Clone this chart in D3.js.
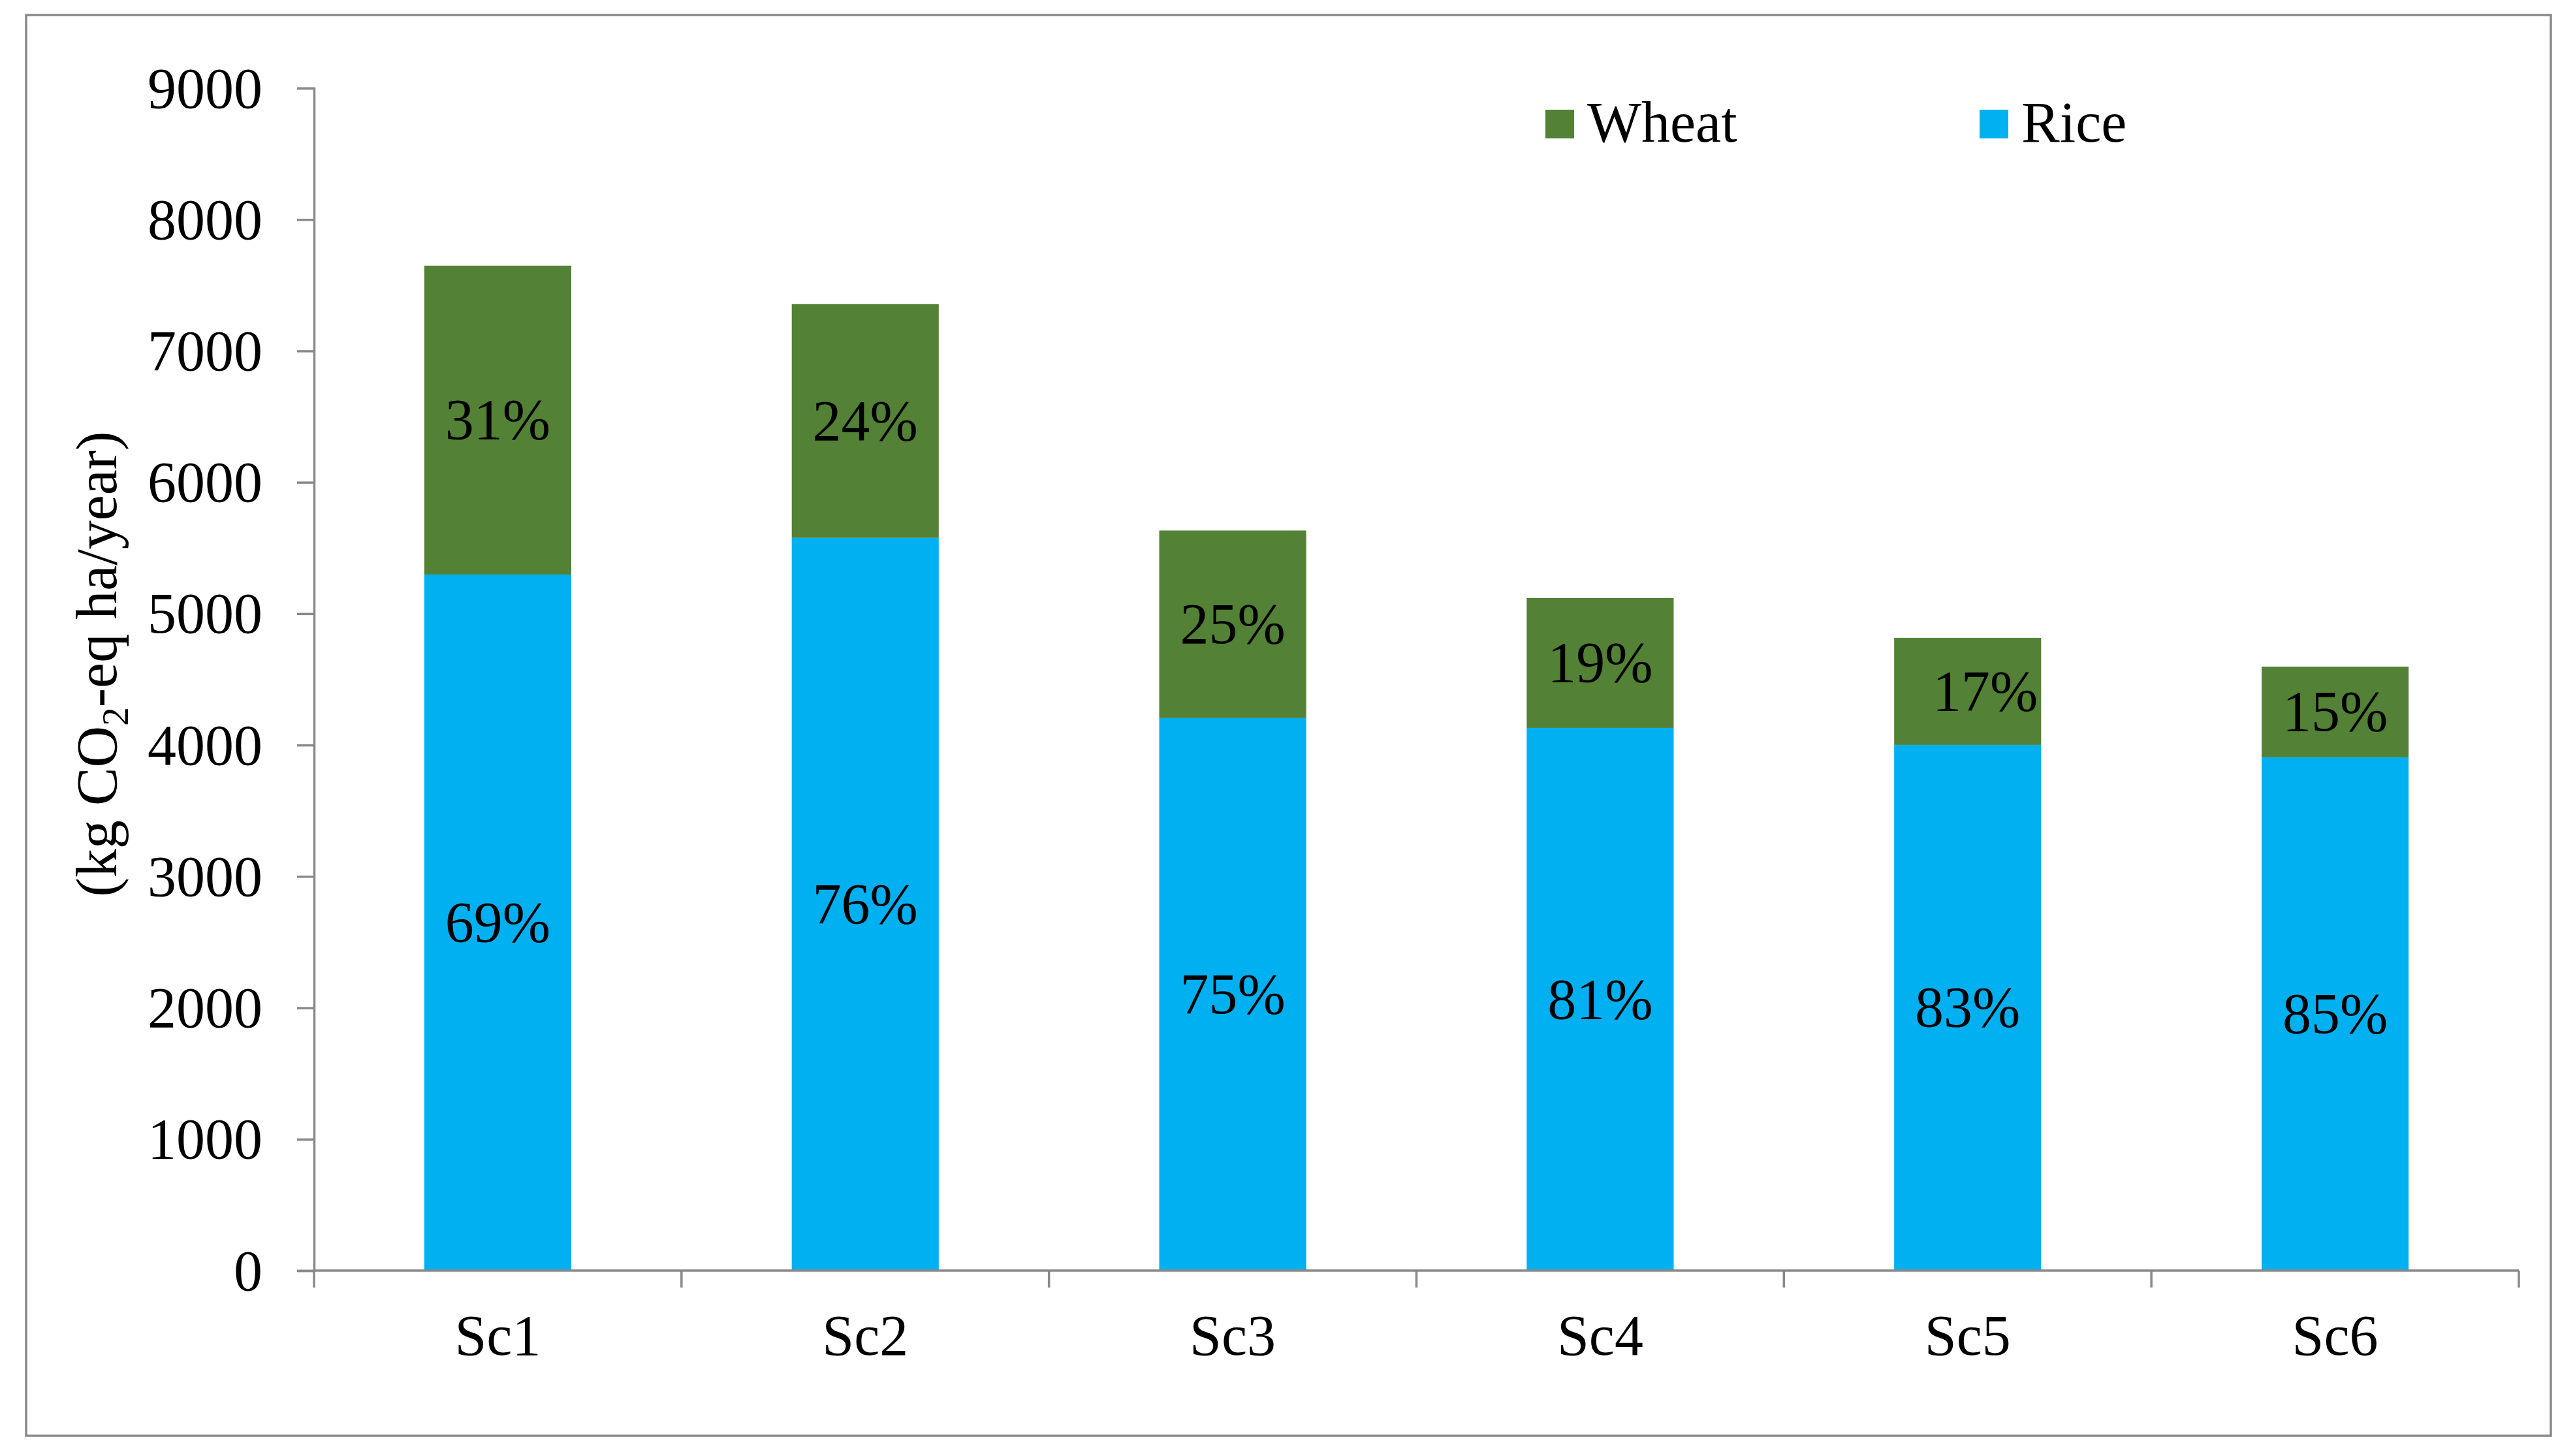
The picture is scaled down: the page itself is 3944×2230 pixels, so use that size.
<!DOCTYPE html>
<html>
<head>
<meta charset="utf-8">
<script src="https://cdn.jsdelivr.net/npm/d3@7"></script>
<style>
  body { margin: 0; background: #fff; }
  text { font-family: "Liberation Serif", "Times New Roman", serif; fill: #000; }
</style>
</head>
<body>
<svg id="chart"></svg>
<script>
// data
const categories = ["Sc1", "Sc2", "Sc3", "Sc4", "Sc5", "Sc6"];
const rice = [5298, 5577, 4205, 4130, 4001, 3907];
const wheat = [2351, 1779, 1428, 989, 815, 690];
const ricePct = ["69%", "76%", "75%", "81%", "83%", "85%"];
const wheatPct = ["31%", "24%", "25%", "19%", "17%", "15%"];
const yTicks = [0, 1000, 2000, 3000, 4000, 5000, 6000, 7000, 8000, 9000];

const colors = { rice: "#00B0F0", wheat: "#538135" };
const grey = "#898989";
const fontSize = 88;

let width = 3944, height = 2230;
const plotLeft = 481, plotRight = 3858, plotTop = 135, plotBottom = 1946;

const svg = d3.select("#chart")
    .attr("width", width)
    .attr("height", height);

svg.append("rect")
    .attr("width", width)
    .attr("height", height)
    .attr("fill", "#fff");

// outer frame
svg.append("rect")
    .attr("x", 40).attr("y", 23)
    .attr("width", 3907 - 40).attr("height", 2199 - 23)
    .attr("fill", "none")
    .attr("stroke", grey)
    .attr("stroke-width", 3.5);

const x = d3.scaleBand()
    .domain(categories)
    .range([plotLeft, plotRight])
    .paddingInner(0.6)
    .paddingOuter(0.3);

const y = d3.scaleLinear()
    .domain([0, 9000])
    .range([plotBottom, plotTop]);

const rows = categories.map((c, i) => ({ cat: c, rice: rice[i], wheat: wheat[i], i: i }));
const stack = d3.stack().keys(["rice", "wheat"]);
const series = stack(rows);

const g = svg.append("g");

g.selectAll("g.series")
    .data(series)
    .enter()
    .append("g")
    .attr("fill", d => colors[d.key])
    .selectAll("rect")
    .data(d => d)
    .enter()
    .append("rect")
    .attr("x", d => x(d.data.cat))
    .attr("width", x.bandwidth())
    .attr("y", d => y(d[1]))
    .attr("height", d => y(d[0]) - y(d[1]));

// y axis
const yAxis = svg.append("g")
    .attr("transform", `translate(${plotLeft},0)`)
    .call(d3.axisLeft(y).tickValues(yTicks).tickFormat(d3.format("d")).tickSize(26).tickPadding(53));
yAxis.select(".domain").attr("stroke", grey).attr("stroke-width", 3.5);
yAxis.selectAll(".tick line").attr("stroke", grey).attr("stroke-width", 3.5);
yAxis.selectAll(".tick text")
    .attr("font-size", fontSize)
    .attr("font-family", "Liberation Serif")
    .attr("dy", "0.33em")
    .attr("fill", "#000");

// x axis
const xAxis = svg.append("g")
    .attr("transform", `translate(0,${plotBottom})`)
    .call(d3.axisBottom(x).tickSize(0).tickPadding(67));
xAxis.select(".domain").remove();
xAxis.selectAll(".tick text")
    .attr("font-size", fontSize)
    .attr("font-family", "Liberation Serif")
    .attr("fill", "#000");

const gap = (x.step() - x.bandwidth()) / 2;
const bounds = categories.map(c => x(c) - gap).concat([plotRight]);

svg.append("line")
    .attr("x1", plotLeft).attr("x2", plotRight)
    .attr("y1", plotBottom).attr("y2", plotBottom)
    .attr("stroke", grey).attr("stroke-width", 3.5);

svg.selectAll("line.xtick")
    .data(bounds)
    .enter()
    .append("line")
    .attr("class", "xtick")
    .attr("x1", d => d).attr("x2", d => d)
    .attr("y1", plotBottom).attr("y2", plotBottom + 26)
    .attr("stroke", grey).attr("stroke-width", 3.5);

// percentage labels, centred in each segment
const labelNudge = [0, 0, 0, 0, 27, 0]; // Sc5 wheat label sits a little right in the original

g.selectAll("text.rice")
    .data(series[0])
    .enter()
    .append("text")
    .attr("class", "rice")
    .attr("x", d => x(d.data.cat) + x.bandwidth() / 2)
    .attr("y", d => (y(d[0]) + y(d[1])) / 2)
    .attr("dy", "0.33em")
    .attr("text-anchor", "middle")
    .attr("font-size", fontSize)
    .text(d => ricePct[d.data.i]);

g.selectAll("text.wheat")
    .data(series[1])
    .enter()
    .append("text")
    .attr("class", "wheat")
    .attr("x", d => x(d.data.cat) + x.bandwidth() / 2 + labelNudge[d.data.i])
    .attr("y", d => (y(d[0]) + y(d[1])) / 2)
    .attr("dy", "0.33em")
    .attr("text-anchor", "middle")
    .attr("font-size", fontSize)
    .text(d => wheatPct[d.data.i]);

// y title
const title = svg.append("text")
    .attr("transform", "translate(178,1017) rotate(-90)")
    .attr("text-anchor", "middle")
    .attr("font-size", fontSize);
title.append("tspan").text("(kg CO");
title.append("tspan").attr("font-size", fontSize * 0.65).attr("dy", 18).text("2");
title.append("tspan").attr("dy", -18).text("-eq ha/year)");

// legend
const legend = [
    { name: "Wheat", color: colors.wheat, x: 2367 },
    { name: "Rice", color: colors.rice, x: 3032 }
];

const lg = svg.selectAll("g.legend")
    .data(legend)
    .enter()
    .append("g")
    .attr("class", "legend")
    .attr("transform", d => `translate(${d.x},168)`);

lg.append("rect")
    .attr("width", 44).attr("height", 44)
    .attr("fill", d => d.color);

lg.append("text")
    .attr("x", 64)
    .attr("y", 49)
    .attr("font-size", fontSize)
    .text(d => d.name);
</script>
</body>
</html>
